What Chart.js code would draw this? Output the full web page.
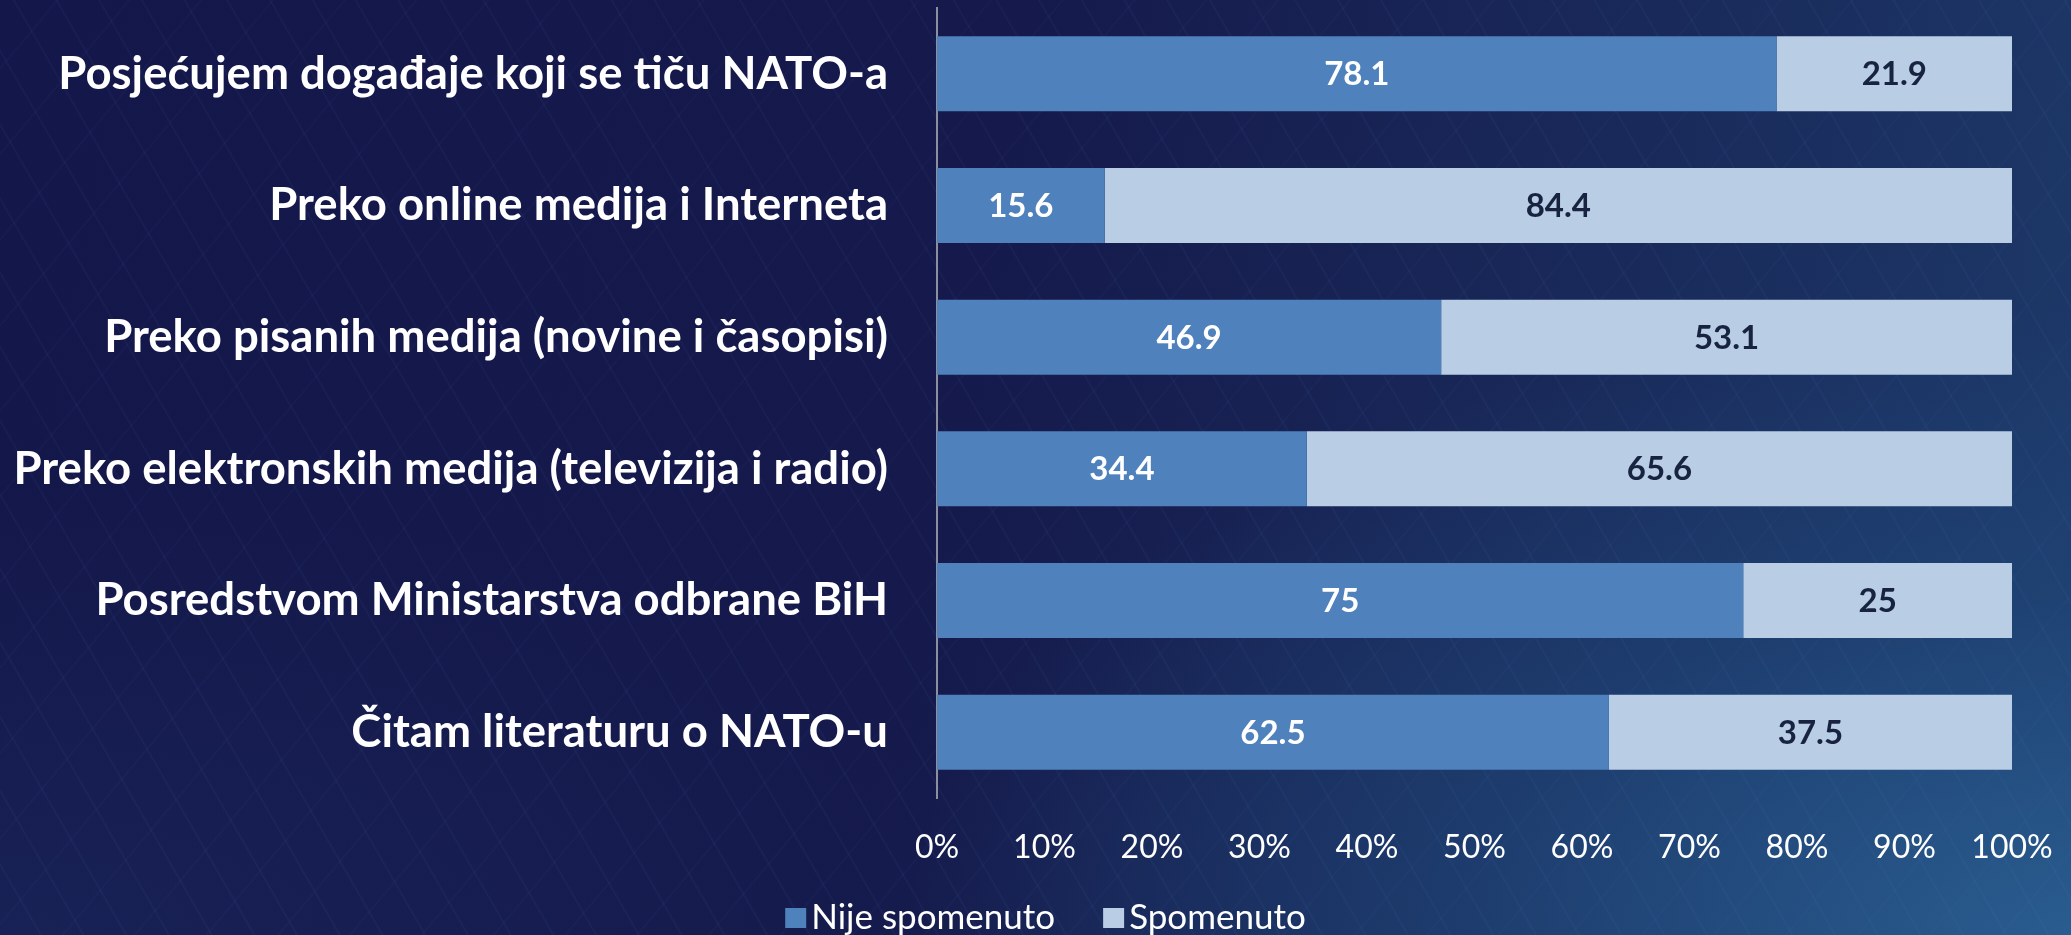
<!DOCTYPE html>
<html>
<head>
<meta charset="utf-8">
<script src="https://cdn.jsdelivr.net/npm/chart.js@4.4.1/dist/chart.umd.min.js"></script>
<style>
  html, body { margin: 0; padding: 0; }
  body {
    width: 2071px;
    height: 935px;
    overflow: hidden;
    background:
      repeating-linear-gradient(60deg, rgba(90, 140, 210, 0) 0px, rgba(90, 140, 210, 0) 34px, rgba(90, 140, 210, 0.07) 35px, rgba(90, 140, 210, 0) 37px),
      repeating-linear-gradient(-50deg, rgba(90, 120, 210, 0) 0px, rgba(90, 120, 210, 0) 52px, rgba(90, 120, 210, 0.05) 53px, rgba(90, 120, 210, 0) 55px),
      radial-gradient(ellipse 75% 90% at 100% 100%, rgba(44, 98, 150, 0.85) 0%, rgba(32, 72, 122, 0.6) 40%, rgba(23, 30, 80, 0) 75%),
      radial-gradient(ellipse 60% 60% at 0% 100%, rgba(28, 44, 96, 0.5) 0%, rgba(23, 30, 80, 0) 80%),
      linear-gradient(100deg, #14174a 0%, #15194b 45%, #192a5a 75%, #1d3a6a 100%);
  }
  #wrap { position: relative; width: 2071px; height: 935px; }
</style>
</head>
<body>
<div id="wrap"><canvas id="chart"></canvas></div>
<script>
const categories = [
  "Posjećujem događaje koji se tiču NATO-a",
  "Preko online medija i Interneta",
  "Preko pisanih medija (novine i časopisi)",
  "Preko elektronskih medija (televizija i radio)",
  "Posredstvom Ministarstva odbrane BiH",
  "Čitam literaturu o NATO-u"
];
const nijeSpomenuto = [78.1, 15.6, 46.9, 34.4, 75, 62.5];
const spomenuto = [21.9, 84.4, 53.1, 65.6, 25, 37.5];
const seriesNames = ["Nije spomenuto", "Spomenuto"];
const xTicks = [0, 10, 20, 30, 40, 50, 60, 70, 80, 90, 100];

const FONT = "Lato, 'Open Sans', sans-serif";

/* ── Values in the middle of each bar ── */
const barValues = {
  id: "barValues",
  afterDatasetsDraw(chart) {
    const { ctx } = chart;
    ctx.save();
    ctx.font = `bold 33px ${FONT}`;
    ctx.textAlign = "center";
    ctx.textBaseline = "middle";
    chart.data.datasets.forEach((ds, i) => {
      const meta = chart.getDatasetMeta(i);
      ctx.fillStyle = ds.labelColor;
      meta.data.forEach((bar, j) => {
        const { x, y } = bar.getCenterPoint();
        ctx.fillText(String(ds.data[j]), x, y + 1);
      });
    });
    ctx.restore();
  },
};

/* ── Legend under the axis (Excel-like spacing) ── */
const bottomLegend = {
  id: "bottomLegend",
  afterDraw(chart) {
    const { ctx } = chart;
    const box = 21, boxGap = 5, itemGap = 48, y = 918;
    ctx.save();
    ctx.font = `35px ${FONT}`;
    ctx.textBaseline = "middle";
    const items = chart.data.datasets.map((ds) => ({
      text: ds.label,
      color: ds.backgroundColor,
      w: box + boxGap + ctx.measureText(ds.label).width,
    }));
    const total = items.reduce((s, it) => s + it.w, 0) + itemGap * (items.length - 1);
    let x = chart.width / 2 + 10 - total / 2;
    items.forEach((it) => {
      ctx.fillStyle = it.color;
      ctx.fillRect(x, y - 10, box, 20);
      ctx.fillStyle = "#ffffff";
      ctx.fillText(it.text, x + box + boxGap, y);
      x += it.w + itemGap;
    });
    ctx.restore();
  },
};

new Chart(document.getElementById("chart"), {
  type: "bar",
  data: {
    labels: categories,
    datasets: [
      {
        label: seriesNames[0],
        data: nijeSpomenuto,
        backgroundColor: "#4f81bd",
        labelColor: "#ffffff",
        barPercentage: 0.57,
        categoryPercentage: 1,
      },
      {
        label: seriesNames[1],
        data: spomenuto,
        backgroundColor: "#b9cde5",
        labelColor: "#172340",
        barPercentage: 0.57,
        categoryPercentage: 1,
      },
    ],
  },
  options: {
    indexAxis: "y",
    responsive: true,
    maintainAspectRatio: false,
    animation: false,
    layout: { padding: { top: 8, right: 59, bottom: 50, left: 0 } },
    plugins: {
      tooltip: { enabled: false },
      legend: { display: false },
    },
    scales: {
      x: {
        stacked: true,
        min: 0,
        max: 100,
        afterBuildTicks: (scale) => {
          scale.ticks = xTicks.map((v) => ({ value: v }));
        },
        afterFit: (scale) => {
          scale.height = 87;
          scale.paddingLeft = 0;
          scale.paddingRight = 0;
        },
        grid: { display: false, drawTicks: false },
        border: { display: false },
        ticks: {
          color: "#ffffff",
          padding: 30,
          font: { family: FONT, size: 32 },
          maxRotation: 0,
          callback: (v) => v + "%",
        },
      },
      y: {
        stacked: true,
        afterFit: (scale) => {
          scale.width = 937;
          scale.paddingTop = 0;
          scale.paddingBottom = 0;
        },
        grid: { display: false, drawTicks: false },
        border: { display: true, color: "#8c8f9e", width: 2 },
        ticks: {
          color: "#ffffff",
          padding: 49,
          font: { family: FONT, size: 45.5, weight: "bold" },
        },
      },
    },
  },
  plugins: [barValues, bottomLegend],
});
</script>
</body>
</html>
